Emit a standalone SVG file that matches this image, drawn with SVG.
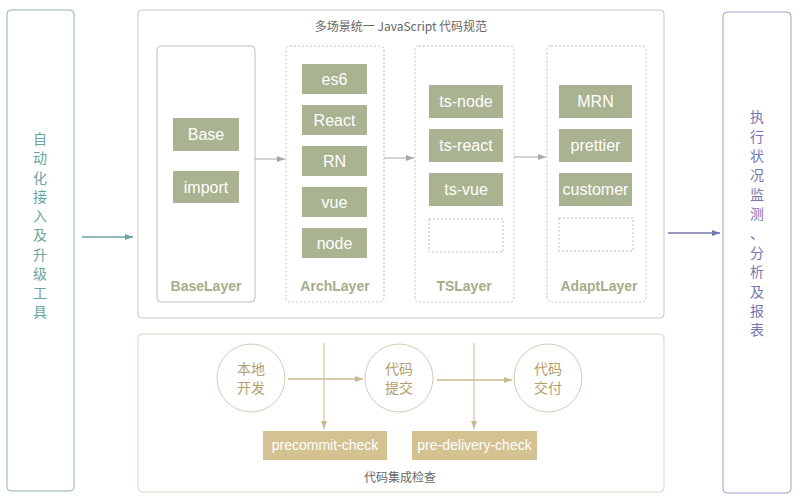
<svg xmlns="http://www.w3.org/2000/svg" width="800" height="503" viewBox="0 0 800 503">
<defs>
<style>
.cjk{font-family:"Noto Sans CJK SC","Liberation Sans",sans-serif}
.lat{font-family:"Liberation Sans","Noto Sans CJK SC",sans-serif}
.gbox{fill:#a9b391}
.gtxt{fill:#ffffff;font-size:16px;text-anchor:middle}
.ltxt{fill:#a6ad88;font-size:14px;font-weight:bold;text-anchor:middle}
.dash{fill:none;stroke:#bdbdb8;stroke-width:1;stroke-dasharray:2 2}
.gold{fill:#d5c293}
.goldtxt{fill:#ffffff;font-size:14px;text-anchor:middle}
.circ{fill:#ffffff;stroke:#d6ccb4;stroke-width:1}
.ctxt{fill:#b49e6c;font-size:14px;text-anchor:middle}
.left{fill:#6aa3a2;font-size:14px;text-anchor:middle}
.right{fill:#7676b2;font-size:14px;text-anchor:middle}
</style>
<marker id="aGray" markerWidth="8" markerHeight="6" refX="8" refY="3" orient="auto" markerUnits="userSpaceOnUse"><path d="M0,0 L8,3 L0,6 z" fill="#a9a9a4"/></marker>
<marker id="aTeal" markerWidth="8" markerHeight="6" refX="8" refY="3" orient="auto" markerUnits="userSpaceOnUse"><path d="M0,0 L8,3 L0,6 z" fill="#6aa3a2"/></marker>
<marker id="aPurple" markerWidth="8" markerHeight="6" refX="8" refY="3" orient="auto" markerUnits="userSpaceOnUse"><path d="M0,0 L8,3 L0,6 z" fill="#7676b2"/></marker>
<marker id="aGold" markerWidth="8" markerHeight="6" refX="8" refY="3" orient="auto" markerUnits="userSpaceOnUse"><path d="M0,0 L8,3 L0,6 z" fill="#c9b98f"/></marker>
</defs>
<rect width="800" height="503" fill="#ffffff"/>

<g id="left-tool">
<rect x="7" y="10" width="67" height="481" rx="4" fill="#ffffff" stroke="#8fb5b3" stroke-width="1"/>
<g class="cjk left">
<text x="40" y="144">自</text>
<text x="40" y="163">动</text>
<text x="40" y="183">化</text>
<text x="40" y="202">接</text>
<text x="40" y="221">入</text>
<text x="40" y="240">及</text>
<text x="40" y="260">升</text>
<text x="40" y="279">级</text>
<text x="40" y="298">工</text>
<text x="40" y="317">具</text>
</g>
</g>

<g id="spec-container">
<rect x="138" y="10" width="526" height="308" rx="4" fill="#ffffff" stroke="#cacac4" stroke-width="1"/>
<text x="401" y="31" class="cjk" font-size="12" fill="#666666" text-anchor="middle">多场景统一 JavaScript 代码规范</text>
</g>

<g id="BaseLayer">
<rect x="157" y="46" width="98" height="256" rx="4" fill="#ffffff" stroke="#bdbdb8" stroke-width="1"/>
<rect class="gbox" x="173" y="118" width="66" height="33"/>
<text class="lat gtxt" x="206" y="140">Base</text>
<rect class="gbox" x="173" y="171" width="66" height="32"/>
<text class="lat gtxt" x="206" y="193">import</text>
<text class="lat ltxt" x="206" y="291">BaseLayer</text>
</g>

<g id="ArchLayer">
<rect class="dash" x="286" y="46" width="98" height="256" rx="4"/>
<rect class="gbox" x="302" y="64" width="65" height="30"/>
<text class="lat gtxt" x="334.5" y="85">es6</text>
<rect class="gbox" x="302" y="105" width="65" height="30"/>
<text class="lat gtxt" x="334.5" y="126">React</text>
<rect class="gbox" x="302" y="146" width="65" height="30"/>
<text class="lat gtxt" x="334.5" y="167">RN</text>
<rect class="gbox" x="302" y="187" width="65" height="30"/>
<text class="lat gtxt" x="334.5" y="208">vue</text>
<rect class="gbox" x="302" y="228" width="65" height="30"/>
<text class="lat gtxt" x="334.5" y="249">node</text>
<text class="lat ltxt" x="335" y="291">ArchLayer</text>
</g>

<g id="TSLayer">
<rect class="dash" x="415" y="46" width="99" height="256" rx="4"/>
<rect class="gbox" x="429" y="85" width="74" height="33"/>
<text class="lat gtxt" x="466" y="107">ts-node</text>
<rect class="gbox" x="429" y="129" width="74" height="33"/>
<text class="lat gtxt" x="466" y="151">ts-react</text>
<rect class="gbox" x="429" y="173" width="74" height="33"/>
<text class="lat gtxt" x="466" y="195">ts-vue</text>
<rect class="dash" x="429" y="219" width="74" height="33"/>
<text class="lat ltxt" x="464" y="291">TSLayer</text>
</g>

<g id="AdaptLayer">
<rect class="dash" x="547" y="46" width="99" height="256" rx="4"/>
<rect class="gbox" x="559" y="85" width="73" height="33"/>
<text class="lat gtxt" x="595.5" y="107">MRN</text>
<rect class="gbox" x="559" y="129" width="73" height="33"/>
<text class="lat gtxt" x="595.5" y="151">prettier</text>
<rect class="gbox" x="559" y="173" width="73" height="33"/>
<text class="lat gtxt" x="595.5" y="195">customer</text>
<rect class="dash" x="559" y="218" width="74" height="33"/>
<text class="lat ltxt" x="599" y="291">AdaptLayer</text>
</g>

<g id="ci-container">
<rect x="138" y="334" width="526" height="158" rx="4" fill="#ffffff" stroke="#ddd5c2" stroke-width="1"/>
<text x="400" y="482" class="cjk" font-size="12" fill="#666666" text-anchor="middle">代码集成检查</text>
</g>

<g id="local-dev">
<circle class="circ" cx="251" cy="378" r="34"/>
<text class="cjk ctxt" x="251" y="374">本地</text>
<text class="cjk ctxt" x="251" y="393">开发</text>
</g>
<g id="commit">
<circle class="circ" cx="399" cy="378" r="34"/>
<text class="cjk ctxt" x="399" y="374">代码</text>
<text class="cjk ctxt" x="399" y="393">提交</text>
</g>
<g id="delivery">
<circle class="circ" cx="548" cy="378" r="34"/>
<text class="cjk ctxt" x="548" y="374">代码</text>
<text class="cjk ctxt" x="548" y="393">交付</text>
</g>
<g id="precommit-check">
<rect class="gold" x="263" y="431" width="124" height="29"/>
<text class="lat goldtxt" x="325" y="450">precommit-check</text>
</g>
<g id="pre-delivery-check">
<rect class="gold" x="412" y="431" width="125" height="29"/>
<text class="lat goldtxt" x="474.5" y="450">pre-delivery-check</text>
</g>

<g id="right-report">
<rect x="723" y="12" width="68" height="481" rx="4" fill="#ffffff" stroke="#9d9dcc" stroke-width="1"/>
<g class="cjk right">
<text x="757" y="122">执</text>
<text x="757" y="142">行</text>
<text x="757" y="161">状</text>
<text x="757" y="180">况</text>
<text x="757" y="200">监</text>
<text x="757" y="219">测</text>
<text x="757" y="239">、</text>
<text x="757" y="258">分</text>
<text x="757" y="277">析</text>
<text x="757" y="297">及</text>
<text x="757" y="316">报</text>
<text x="757" y="335">表</text>
</g>
</g>

<g id="connectors" fill="none">
<line x1="82" y1="237" x2="133" y2="237" stroke="#6aa3a2" stroke-width="1.5" marker-end="url(#aTeal)"/>
<line x1="668" y1="233" x2="720" y2="233" stroke="#7676b2" stroke-width="1.5" marker-end="url(#aPurple)"/>
<line x1="255" y1="159" x2="285" y2="159" stroke="#a9a9a4" stroke-width="1" marker-end="url(#aGray)"/>
<line x1="384" y1="158" x2="414" y2="158" stroke="#a9a9a4" stroke-width="1" marker-end="url(#aGray)"/>
<line x1="514" y1="157" x2="546" y2="157" stroke="#a9a9a4" stroke-width="1" marker-end="url(#aGray)"/>
<line x1="288" y1="379" x2="363" y2="379" stroke="#c9b98f" stroke-width="1.5" marker-end="url(#aGold)"/>
<line x1="437" y1="380" x2="512" y2="380" stroke="#c9b98f" stroke-width="1.5" marker-end="url(#aGold)"/>
<line x1="324" y1="343" x2="324" y2="429" stroke="#c9b98f" stroke-width="1" marker-end="url(#aGold)"/>
<line x1="474" y1="343" x2="474" y2="429" stroke="#c9b98f" stroke-width="1" marker-end="url(#aGold)"/>
</g>
</svg>
